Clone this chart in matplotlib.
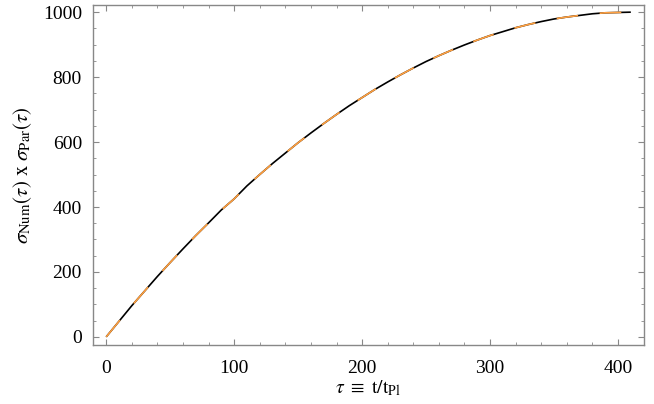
import numpy as np
import matplotlib
matplotlib.use("Agg")
import matplotlib.pyplot as plt
from matplotlib.ticker import MultipleLocator

plt.rcParams['font.family'] = ['Liberation Serif', 'DejaVu Serif']
plt.rcParams['mathtext.fontset'] = 'stix'

# values
tau = [0, 10, 20, 30, 40, 50, 60, 70, 80, 90, 100, 110, 120, 130, 140,
       150, 160, 170, 180, 190, 200, 210, 220, 230, 240, 250, 260, 270,
       280, 290, 300, 310, 320, 330, 340, 350, 360, 370, 380, 390, 400, 410]
sigma = [0, 48, 96, 141, 186, 229, 271, 312, 351, 391, 425, 465, 500, 534,
         566, 598, 628, 657, 685, 712, 737, 762, 785, 807, 828, 848, 866,
         883, 899, 914, 928, 940, 952, 962, 971, 979, 985, 990, 995, 998,
         999, 1000]

fig = plt.figure(figsize=(6.54, 4.04), dpi=100)
ax = fig.add_axes([0.1422, 0.146, 0.8425, 0.8424])

ax.plot(tau, sigma, color='black', lw=1.2, solid_capstyle='butt')
ax.plot(tau, sigma, color='#ffa040', lw=1.2, dashes=(13, 13))

ax.set_xlim(-10.3, 420.3)
ax.set_ylim(-25, 1023)
ax.xaxis.set_major_locator(MultipleLocator(100))
ax.xaxis.set_minor_locator(MultipleLocator(20))
ax.yaxis.set_major_locator(MultipleLocator(200))
ax.yaxis.set_minor_locator(MultipleLocator(50))

gray = '#888888'
for s in ax.spines.values():
    s.set_color(gray)
    s.set_linewidth(1.0)
ax.tick_params(which='both', direction='in', top=True, right=True,
               color=gray, labelsize=14, labelcolor='black')
ax.tick_params(which='major', length=4.5, width=0.8)
ax.tick_params(which='minor', length=2.5, width=0.6)
ax.tick_params(axis='x', which='major', pad=11)
ax.tick_params(axis='y', which='major', pad=8)

ax.set_xlabel(r'$\tau\ \equiv\ \mathrm{t/t_{Pl}}$', fontsize=14, labelpad=1)
ax.set_ylabel(r'$\sigma_{\rm Num}(\tau)\ \mathrm{x}\ \sigma_{\rm Par}(\tau)$',
              fontsize=15, labelpad=6)

fig.savefig('out.png', dpi=100)
